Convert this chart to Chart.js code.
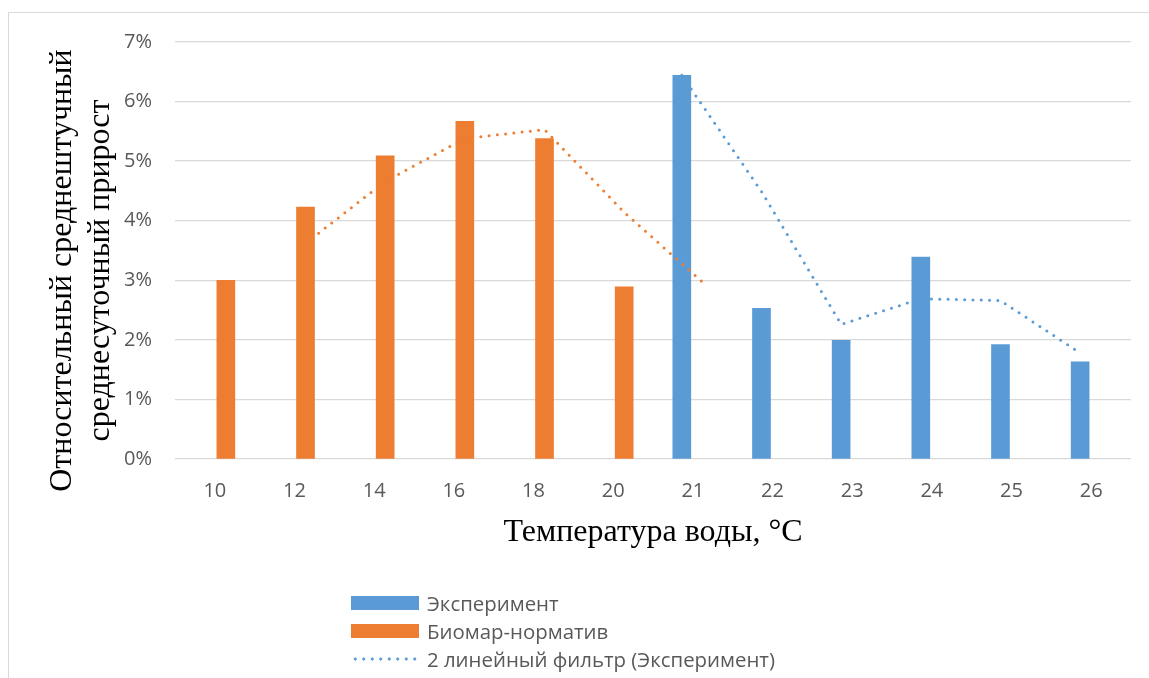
<!DOCTYPE html>
<html>
<head>
<meta charset="utf-8">
<script src="https://cdn.jsdelivr.net/npm/chart.js@4/dist/chart.umd.min.js"></script>
<style>
  body { margin: 0; background: #fff; }
  #wrap { position: relative; width: 1149px; height: 678px; overflow: hidden; }
  #frame { position: absolute; left: 8px; top: 12px; width: 1300px; height: 800px; border: 1px solid #d9d9d9; }
  #progressChart { position: absolute; left: 0; top: 0; }
  #legend { position: absolute; left: 351px; top: 589px; font-family: "Open Sans", sans-serif; font-size: 20.4px; color: #595959; }
  .item { height: 28px; display: flex; align-items: center; }
  .swatch { width: 68px; height: 14px; margin-right: 8px; }
</style>
</head>
<body>
<div id="wrap">
  <div id="frame"></div>
  <canvas id="progressChart" width="1149" height="678"></canvas>
  <div id="legend"></div>
</div>
<script>
// temperature categories
var temps = ['10', '12', '14', '16', '18', '20', '21', '22', '23', '24', '25', '26'];

// values in percent
var experiment = [null, null, null, null, null, null, 6.44, 2.53, 1.99, 3.39, 1.92, 1.63];
var biomar = [3.0, 4.23, 5.09, 5.67, 5.38, 2.89, null, null, null, null, null, null];

// 2-point moving average trend lines
var experimentFilter = [null, null, null, null, null, null, 6.44, 4.49, 2.26, 2.69, 2.66, 1.78];
var biomarFilter = [null, 3.62, 4.66, 5.38, 5.53, 4.14, 2.95, null, null, null, null, null];

var blue = '#5B9BD5';
var orange = '#ED7D31';
// share of a category taken by the two bar slots (Excel clustered columns)
var catPct = 0.553;

// each series sits in its own slot of the category: first left, second right
function slotPoints(values, shift) {
    var pts = [];
    values.forEach(function(v, i) {
        if (v !== null) pts.push({ x: i + shift, y: v });
    });
    return pts;
}

var ctx = document.getElementById('progressChart').getContext('2d');

var chart = new Chart(ctx, {
    type: 'bar',
    data: {
        labels: temps,
        datasets: [{
            label: 'Эксперимент',
            data: slotPoints(experiment, -catPct / 4),
            xAxisID: 'xl',
            backgroundColor: blue,
            grouped: false,
            barThickness: 18,
            order: 2
        }, {
            label: 'Биомар-норматив',
            data: slotPoints(biomar, catPct / 4),
            xAxisID: 'xl',
            backgroundColor: orange,
            grouped: false,
            barThickness: 18,
            order: 2
        }, {
            type: 'line',
            label: '2 линейный фильтр (Эксперимент)',
            data: slotPoints(experimentFilter, -catPct / 4),
            xAxisID: 'xl',
            borderColor: blue,
            borderWidth: 3,
            borderDash: [0, 8.3],
            borderCapStyle: 'round',
            pointRadius: 0,
            tension: 0,
            order: 1
        }, {
            type: 'line',
            label: '2 линейный фильтр (Биомар-норматив)',
            data: slotPoints(biomarFilter, catPct / 4),
            xAxisID: 'xl',
            borderColor: orange,
            borderWidth: 3,
            borderDash: [0, 8.3],
            borderCapStyle: 'round',
            pointRadius: 0,
            tension: 0,
            order: 1,
            hideInLegend: true
        }]
    },
    options: {
        responsive: false,
        animation: false,
        devicePixelRatio: 1,
        layout: { padding: { left: 0, top: 42, right: 18, bottom: 126 } },
        plugins: {
            legend: { display: false },
            tooltip: { enabled: false }
        },
        scales: {
            x: {
                type: 'category',
                offset: true,
                grid: { display: false },
                border: { display: false },
                ticks: { color: '#595959', font: { family: 'Open Sans', size: 20 }, padding: 12 },
                title: {
                    display: true,
                    text: 'Температура воды, °C',
                    color: '#000',
                    font: { family: 'Liberation Serif', size: 32 },
                    padding: 0
                },
                afterFit: function(scale) { scale.height = 93; }
            },
            xl: {
                type: 'linear',
                display: false,
                offset: false,
                min: -0.5,
                max: temps.length - 0.5
            },
            y: {
                min: 0,
                max: 7,
                ticks: {
                    stepSize: 1,
                    color: '#595959',
                    font: { family: 'Open Sans', size: 20 },
                    padding: 23,
                    callback: function(v) { return v + '%'; }
                },
                grid: { color: '#d9d9d9', lineWidth: 1.3, drawTicks: false },
                border: { display: false },
                title: {
                    display: true,
                    text: ['Относительный среднештучный     ', 'среднесуточный прирост     '],
                    color: '#000',
                    font: { family: 'Liberation Serif', size: 32 },
                    padding: { top: 43, bottom: 0 }
                },
                afterFit: function(scale) { scale.width = 175; }
            }
        }
    }
});

// legend below the chart, one entry per row
var legendBox = document.getElementById('legend');
chart.data.datasets.forEach(function(ds) {
    if (ds.hideInLegend) return;
    var row = document.createElement('div');
    row.className = 'item';
    var sw = document.createElement('div');
    sw.className = 'swatch';
    if (ds.type === 'line') {
        sw.style.background = 'radial-gradient(circle, ' + ds.borderColor + ' 1.4px, transparent 1.8px) 0 50% / 8.5px 6px repeat-x';
    } else {
        sw.style.background = ds.backgroundColor;
    }
    var txt = document.createElement('span');
    txt.textContent = ds.label;
    row.appendChild(sw);
    row.appendChild(txt);
    legendBox.appendChild(row);
});
</script>
</body>
</html>
